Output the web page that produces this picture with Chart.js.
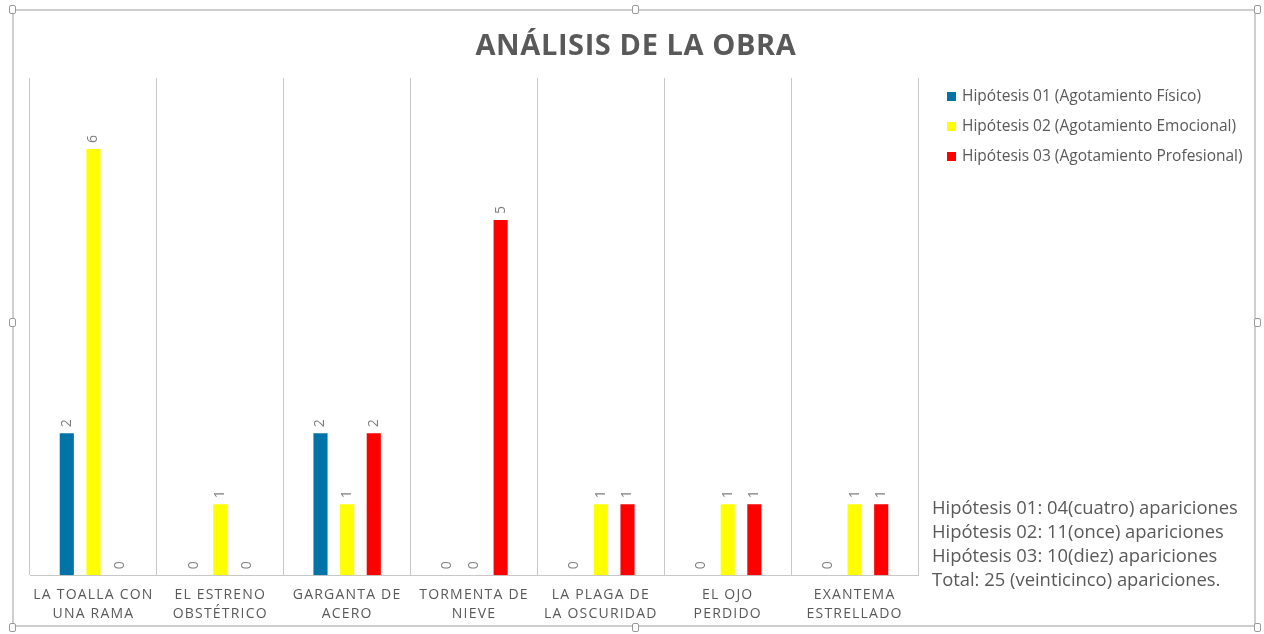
<!DOCTYPE html>
<html>
<head>
<meta charset="utf-8">
<script src="https://cdn.jsdelivr.net/npm/chart.js@4.4.1/dist/chart.umd.min.js"></script>
<style>
  html, body { margin: 0; padding: 0; background: #fff; }
  #wrap { position: relative; width: 1264px; height: 634px; }
  #frame { position: absolute; left: 12px; top: 9px; width: 1244px; height: 618px; border: 2px solid #cfcfcf; box-sizing: border-box; }
  .handle { position: absolute; width: 7px; height: 9px; background: #fff; border: 1px solid #9a9a9a; border-radius: 2px; box-sizing: border-box; }
  #titulo { position: absolute; left: 0; width: 1272px; top: 24px; text-align: center; font-family: "Open Sans", sans-serif; font-weight: bold; font-size: 29px; letter-spacing: 0.6px; line-height: 40px; color: #595959; }
  #leyenda { position: absolute; left: 947px; top: 84px; font-family: "Open Sans", sans-serif; font-size: 15.5px; color: #595959; white-space: nowrap; }
  #leyenda div { height: 30px; line-height: 22px; }
  #leyenda span.caja { display: inline-block; width: 9px; height: 9px; margin-right: 6px; vertical-align: 0px; }
  #summary { position: absolute; left: 932px; top: 495px; font-family: "Open Sans", sans-serif; font-size: 18.4px; line-height: 24px; color: #595959; white-space: nowrap; }
  canvas { position: absolute; left: 0; top: 0; }
</style>
</head>
<body>
<div id="wrap">
  <div id="frame"></div>
  <div class="handle" style="left:9px;top:5px"></div>
  <div class="handle" style="left:632px;top:5px"></div>
  <div class="handle" style="left:1254px;top:5px"></div>
  <div class="handle" style="left:9px;top:318px"></div>
  <div class="handle" style="left:1254px;top:318px"></div>
  <div class="handle" style="left:9px;top:623px"></div>
  <div class="handle" style="left:632px;top:623px"></div>
  <div class="handle" style="left:1254px;top:623px"></div>
  <canvas id="myChart" width="1264" height="634"></canvas>
  <div id="titulo">ANÁLISIS DE LA OBRA</div>
  <div id="leyenda"></div>
  <div id="summary">
    Hipótesis 01: 04(cuatro) apariciones<br>
    Hipótesis 02: 11(once) apariciones<br>
    Hipótesis 03: 10(diez) apariciones<br>
    Total: 25 (veinticinco) apariciones.
  </div>
</div>
<script>
// datos de la obra
const categorias = [
  ['LA TOALLA CON', 'UNA RAMA'],
  ['EL ESTRENO', 'OBSTÉTRICO'],
  ['GARGANTA DE', 'ACERO'],
  ['TORMENTA DE', 'NIEVE'],
  ['LA PLAGA DE', 'LA OSCURIDAD'],
  ['EL OJO', 'PERDIDO'],
  ['EXANTEMA', 'ESTRELLADO']
];
const nombresSeries = [
  'Hipótesis 01 (Agotamiento Físico)',
  'Hipótesis 02 (Agotamiento Emocional)',
  'Hipótesis 03 (Agotamiento Profesional)'
];
const hipotesis01 = [2, 0, 2, 0, 0, 0, 0];
const hipotesis02 = [6, 1, 1, 0, 1, 1, 1];
const hipotesis03 = [0, 0, 2, 5, 1, 1, 1];
const colores = ['#0173a6', '#ffff00', '#ff0000'];

const gris = '#595959';
const fuente = '"Open Sans", sans-serif';

// etiquetas de valor giradas encima de cada barra
const etiquetasPlugin = {
  id: 'etiquetas',
  beforeDraw(chart) {
    chart.ctx.letterSpacing = '1.2px'; // para las etiquetas del eje x
  },
  beforeDatasetsDraw(chart) {
    chart.ctx.letterSpacing = '0px';
  },
  afterDatasetsDraw(chart) {
    const ctx = chart.ctx;
    ctx.save();
    ctx.fillStyle = '#7f7f7f';
    ctx.font = '14px ' + fuente;
    ctx.textAlign = 'left';
    ctx.textBaseline = 'middle';
    chart.data.datasets.forEach((ds, i) => {
      const meta = chart.getDatasetMeta(i);
      meta.data.forEach((bar, j) => {
        ctx.save();
        ctx.translate(bar.x, bar.y - 6);
        ctx.rotate(-Math.PI / 2);
        ctx.fillText(String(ds.data[j]), 0, 0);
        ctx.restore();
      });
    });
    ctx.restore();
  }
};

// leyenda en html
const leyenda = document.getElementById('leyenda');
nombresSeries.forEach((nombre, i) => {
  const fila = document.createElement('div');
  fila.innerHTML = '<span class="caja" style="background:' + colores[i] + '"></span>' + nombre;
  leyenda.appendChild(fila);
});

const ctx = document.getElementById('myChart').getContext('2d');
const myChart = new Chart(ctx, {
  type: 'bar',
  data: {
    labels: categorias,
    datasets: [hipotesis01, hipotesis02, hipotesis03].map((serie, i) => ({
      label: nombresSeries[i],
      data: serie,
      backgroundColor: colores[i],
      borderWidth: 0,
      categoryPercentage: 0.63,
      barPercentage: 0.53
    }))
  },
  options: {
    responsive: false,
    animation: false,
    layout: { padding: { left: 30, right: 346, top: 78, bottom: 1 } },
    plugins: {
      title: { display: false },
      legend: { display: false },
      tooltip: { enabled: false }
    },
    scales: {
      x: {
        grid: { color: '#c8c8c8', offset: true, tickLength: 0, drawTicks: false },
        border: { color: '#c8c8c8' },
        ticks: {
          color: gris,
          font: { family: fuente, size: 14, lineHeight: 1.35 },
          padding: 10,
          maxRotation: 0,
          autoSkip: false
        }
      },
      y: {
        display: false,
        min: 0,
        max: 7
      }
    }
  },
  plugins: [etiquetasPlugin]
});
</script>
</body>
</html>
